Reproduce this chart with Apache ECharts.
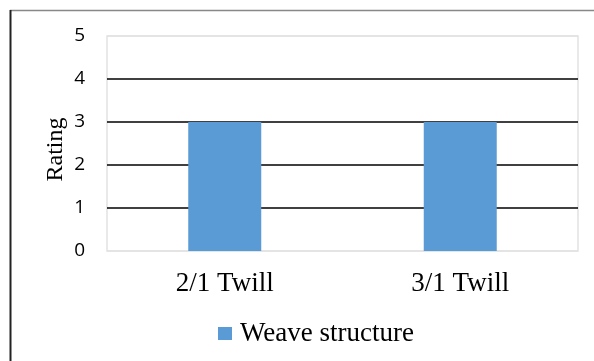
<!DOCTYPE html>
<html>
<head>
<meta charset="utf-8">
<script src="https://cdn.jsdelivr.net/npm/echarts@6/dist/echarts.min.js"></script>
<style>
  html, body { margin: 0; padding: 0; background: #fff; }
  #chart { width: 594px; height: 361px; }
</style>
</head>
<body>
<div id="chart"></div>
<script>
// data
const categories = ['2/1 Twill', '3/1 Twill'];
const seriesName = 'Weave structure';
const ratings = [3, 3];
const yTicks = [0, 1, 2, 3, 4, 5];

const chart = echarts.init(document.getElementById('chart'), null, { renderer: 'canvas' });

const option = {
  animation: false,
  backgroundColor: '#fff',
  graphic: [
    // outer frame: grey top, dark left edge
    { type: 'line', shape: { x1: 10, y1: 10.5, x2: 594, y2: 10.5 }, style: { stroke: '#888', lineWidth: 1.5 } },
    { type: 'line', shape: { x1: 10.5, y1: 10, x2: 10.5, y2: 361 }, style: { stroke: '#222', lineWidth: 2 } }
  ],
  grid: { left: 107, right: 16, top: 36, bottom: 110, show: true, borderColor: '#e2e2e2', borderWidth: 1.5 },
  legend: {
    bottom: 9,
    left: 213,
    itemWidth: 14,
    itemHeight: 13,
    itemGap: 8,
    textStyle: { fontFamily: 'Liberation Serif', fontSize: 27, color: '#000', padding: [0, 0, 0, 3] },
    data: [{ name: seriesName, icon: 'rect' }]
  },
  xAxis: {
    type: 'category',
    data: categories,
    axisLine: { show: false },
    axisTick: { show: false },
    axisLabel: { fontFamily: 'Liberation Serif', fontSize: 27, color: '#000', margin: 19 }
  },
  yAxis: {
    type: 'value',
    min: yTicks[0],
    max: yTicks[yTicks.length - 1],
    interval: 1,
    name: 'Rating',
    nameLocation: 'middle',
    nameGap: 39,
    nameRotate: 90,
    nameMoveOverlap: false,
    // right padding nudges the rotated title a little down
    nameTextStyle: { fontFamily: 'Liberation Serif', fontSize: 24, color: '#000', padding: [0, 12, 0, 0] },
    axisLine: { show: false },
    axisTick: { show: false },
    axisLabel: { fontFamily: 'Open Sans', fontSize: 19, color: '#000', margin: 22 },
    splitLine: {
      // light frame colour at 0 and 5, black in between
      lineStyle: {
        color: yTicks.map(v => (v === 0 || v === 5) ? '#e2e2e2' : '#000'),
        width: 1.5
      }
    }
  },
  series: [{
    name: seriesName,
    type: 'bar',
    data: ratings,
    barWidth: '31%',
    itemStyle: { color: '#5B9BD5' }
  }]
};

chart.setOption(option);
</script>
</body>
</html>
